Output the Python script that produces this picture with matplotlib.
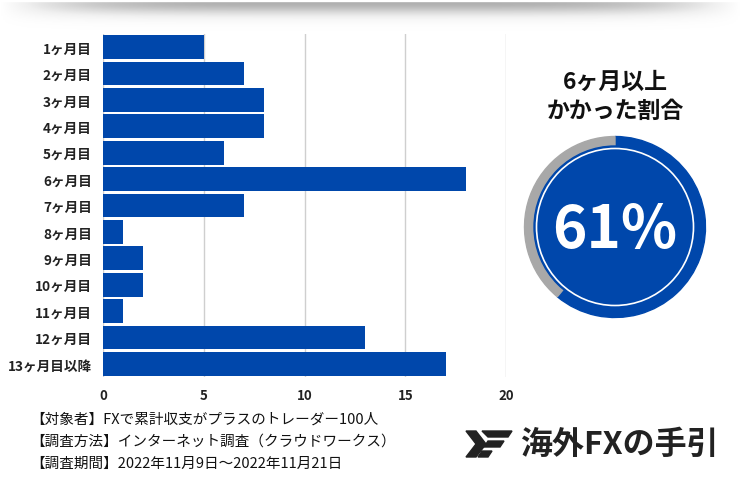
import numpy as np
import matplotlib.pyplot as plt
from matplotlib.patches import Wedge, Circle, Polygon

plt.rcParams['font.family'] = ['Noto Sans CJK JP', 'DejaVu Sans']

# data
months = ['1ヶ月目', '2ヶ月目', '3ヶ月目', '4ヶ月目', '5ヶ月目', '6ヶ月目', '7ヶ月目',
          '8ヶ月目', '9ヶ月目', '10ヶ月目', '11ヶ月目', '12ヶ月目', '13ヶ月目以降']
counts = [5, 7, 8, 8, 6, 18, 7, 1, 2, 2, 1, 13, 17]
x_ticks = [0, 5, 10, 15, 20]
share_pct = 61
share_title = '6ヶ月以上\nかかった割合'
notes = ['【対象者】FXで累計収支がプラスのトレーダー100人',
         '【調査方法】インターネット調査（クラウドワークス）',
         '【調査期間】2022年11月9日～2022年11月21日']
brand = '海外FXの手引'

blue = '#0047AB'
W, H = 741, 481
fig = plt.figure(figsize=(W / 100, H / 100), dpi=100)

# soft shadow at the top
sh = fig.add_axes([0, 1 - 32 / H, 1, 32 / H])
xx = np.linspace(-1, 1, 400)
yy = np.linspace(0, 1, 40)
X, Y = np.meshgrid(xx, yy)
shade = np.clip(1 - np.abs(X) ** 5, 0, 1) * np.exp(-((Y - 0.12) / 0.4) ** 2) * (Y > 0.08)
sh.imshow(shade, cmap='Greys', vmin=0, vmax=2.4, aspect='auto', origin='upper')
sh.axis('off')

# bar chart
ax = fig.add_axes([103 / W, 1 - 378 / H, 403 / W, 343 / H])
y = np.arange(len(months))
ax.barh(y, counts, height=0.9, color=blue, zorder=3)
ax.set_xlim(0, 20)
ax.set_ylim(len(months) - 0.5, -0.5)
ax.set_xticks(x_ticks)
ax.set_yticks(y)
ax.set_yticklabels(months, fontsize=9.8, fontweight='bold', color='#222222')
ax.set_xticklabels([str(t) for t in x_ticks], fontsize=9.5, fontweight='bold', color='#222222')
ax.tick_params(length=0, pad=8)
ax.tick_params(axis='y', pad=8)
ax.grid(axis='x', color='#cfcfcf', linewidth=1, zorder=0)
for s in ax.spines.values():
    s.set_visible(False)

# donut summary
cx, cy, size = 615, 228, 200
dax = fig.add_axes([(cx - size / 2) / W, 1 - (cy + size / 2) / H, size / W, size / H])
dax.set_xlim(-1, 1)
dax.set_ylim(-1, 1)
dax.set_aspect('equal')
dax.axis('off')
r_out, ring = 0.905, 0.10
end_ang = 90 - 360 * share_pct / 100
dax.add_patch(Wedge((0, 0), r_out, end_ang, 90, width=ring, color=blue))
dax.add_patch(Wedge((0, 0), r_out, 90, end_ang + 360, width=ring, color='#a8a8a8'))
dax.add_patch(Circle((0, 0), r_out - ring + 0.005, color=blue))
dax.add_patch(Circle((0, 0), r_out - ring - 0.02, fill=False, edgecolor='white', linewidth=1.2))
dax.text(0, -0.03, f'{share_pct}%', ha='center', va='center', color='white',
         fontsize=42, fontweight='bold')

fig.text(cx / W, 1 - 97 / H, share_title, ha='center', va='center', fontsize=16.5,
         fontweight='bold', color='#111111', linespacing=1.3)

# footnotes
for i, line in enumerate(notes):
    fig.text(30 / W, 1 - (420 + i * 22) / H, line, ha='left', va='center', fontsize=10.5,
             color='#111111')

# brand logo
lax = fig.add_axes([462 / W, 1 - 462 / H, 56 / W, 34 / H])
lax.set_xlim(0, 56)
lax.set_ylim(0, 34)
lax.axis('off')
lax.add_patch(Polygon([(4, 30), (14, 30), (24, 17), (14, 4), (4, 4), (14, 17)], color='#222222'))
lax.add_patch(Polygon([(20, 30), (50, 30), (46, 24), (26, 24)], color='#222222'))
lax.add_patch(Polygon([(26, 20), (42, 20), (38, 14), (22, 14)], color='#222222'))
lax.add_patch(Polygon([(20, 10), (30, 10), (26, 4), (16, 4)], color='#222222'))
fig.text(520 / W, 1 - 445 / H, brand, ha='left', va='center', fontsize=23,
         fontweight='bold', color='#222222')

fig.savefig('out.png', dpi=100, facecolor='white')
